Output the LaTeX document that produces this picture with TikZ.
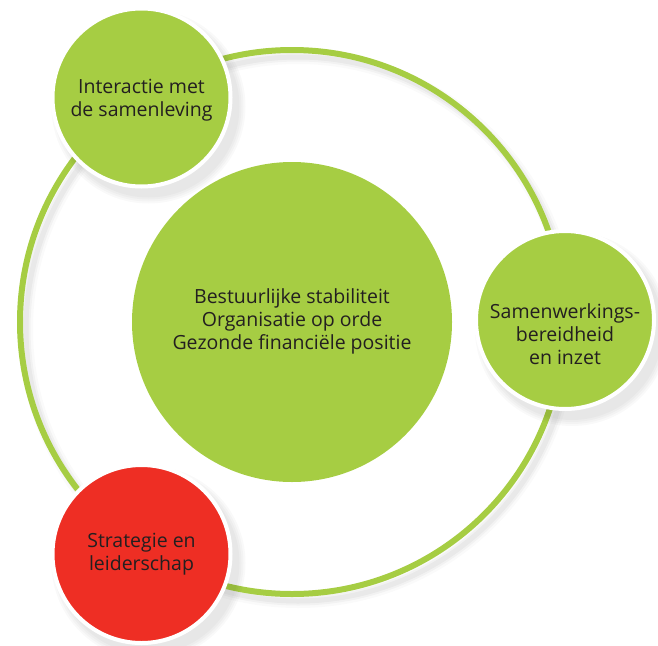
\documentclass[tikz,border=0pt]{standalone}
\usepackage{fontspec}
\setmainfont{Open Sans}[Ligatures={NoCommon,NoRequired,NoContextual}]
\definecolor{lgreen}{HTML}{A6CD43}
\definecolor{lred}{HTML}{EE2E24}
\definecolor{ink}{HTML}{231F20}
\tikzset{
  txt/.style={align=center, text=ink, font=\fontsize{19.5}{23}\selectfont, inner sep=0pt},
  bub/.style={circle, fill=#1, draw=white, line width=4pt, minimum size=178pt, inner sep=0pt},
  shad/.style={fill=black, opacity=0.025},
}
\begin{document}
\begin{tikzpicture}[x=1pt,y=-1pt]
\useasboundingbox (0,0) rectangle (658,645);
% ring shadow
\foreach \w/\o in {14/0.02,9/0.03,5/0.04}{
  \draw[line width=\w pt, black, opacity=\o] (298,329) circle (272);
}
\draw[line width=6pt, lgreen] (292,322) circle (272);
% centre
\node[circle, fill=lgreen, minimum size=320pt, inner sep=0pt] (core) at (292,322) {};
\node[txt] (coretxt) at (292,321)
  {Bestuurlijke stabiliteit\\Organisatie op orde\\Gezonde financiële positie};
% bubble shadows
\foreach \cx/\cy in {141.5/97.5, 565/320, 141.5/554}{
  \foreach \r in {97,95,93,91}{
    \fill[shad] (\cx+7,\cy+9) circle (\r);
  }
}
\node[bub=lgreen] (soc) at (141.5,97.5) {};
\node[txt] (soctxt) at (141.5,100) {Interactie met\\de samenleving};
\node[bub=lgreen] (coop) at (565,320) {};
\node[txt] (cooptxt) at (565,334.5) {Samenwerkings-\\bereidheid\\en inzet};
\node[bub=lred] (lead) at (141.5,554) {};
\node[txt] (leadtxt) at (141.5,554.5) {Strategie en\\leiderschap};
\end{tikzpicture}
\end{document}
